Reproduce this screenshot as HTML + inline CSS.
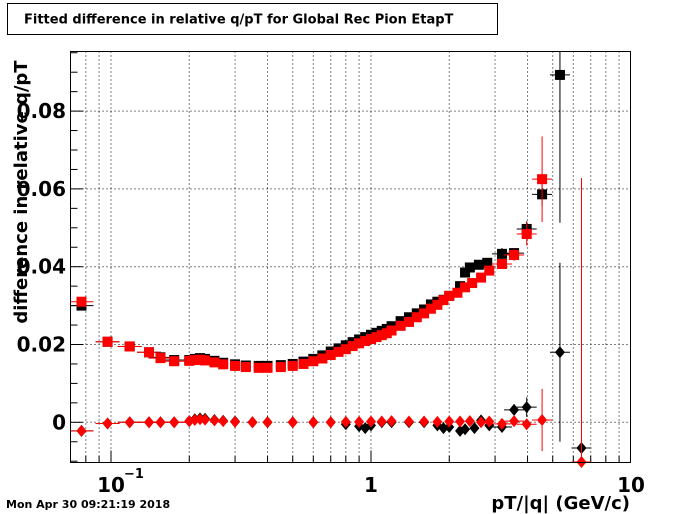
<!DOCTYPE html>
<html><head><meta charset="utf-8"><style>
html,body{margin:0;padding:0;background:#fff;}
svg{display:block;font-family:"DejaVu Sans","Liberation Sans",sans-serif;font-weight:bold;}
</style></head><body>
<svg id="c" width="700" height="514" xmlns="http://www.w3.org/2000/svg">
<rect x="0" y="0" width="700" height="514" fill="#fff"/>
<g>
<rect x="7.5" y="3.5" width="490" height="31" fill="#fff" stroke="#000" stroke-width="1"/>
<text x="24" y="23.5" font-size="13">Fitted difference in relative q/pT for Global Rec Pion EtapT</text>
</g>
<g id="grid"></g>
<g id="axes"></g>
<g id="marks"></g>
<rect x="70.5" y="51.5" width="560" height="411" fill="none" stroke="#000" stroke-width="1"/>
<text x="22" y="187" font-size="18" text-anchor="middle" transform="rotate(-90 27 187)">difference in relative q/pT</text>
<text x="630" y="509" font-size="18" text-anchor="end">pT/|q| (GeV/c)</text>
<text x="6" y="508" font-size="11">Mon Apr 30 09:21:19 2018</text>
</svg>
<script>
const xTicks=[0.1,1,10];
const xTickLabels=["10","1","10"];
const yTicks=[0,0.02,0.04,0.06,0.08];
const yTickLabels=["0","0.02","0.04","0.06","0.08"];
// black squares
const bsX=[0.077,0.097,0.118,0.14,0.155,0.175,0.2,0.21,0.22,0.23,0.25,0.27,0.3,0.33,0.37,0.4,0.45,0.5,0.55,0.6,0.65,0.7,0.75,0.8,0.85,0.9,0.95,1.0,1.05,1.1,1.15,1.2,1.3,1.4,1.5,1.6,1.7,1.8,1.9,2.0,2.2,2.3,2.4,2.6,2.8,3.19,3.55,3.97,4.55,5.33];
const bsY=[0.030,0.0207,0.0195,0.018,0.0167,0.016,0.016,0.0163,0.0165,0.0163,0.0158,0.0153,0.0149,0.0146,0.0145,0.0145,0.0147,0.015,0.0156,0.0163,0.0172,0.0182,0.019,0.0198,0.0206,0.0213,0.0219,0.0225,0.023,0.0235,0.024,0.0247,0.026,0.027,0.028,0.029,0.0303,0.031,0.0315,0.0325,0.035,0.0385,0.0398,0.0405,0.041,0.0433,0.0435,0.0497,0.0586,0.0893];
const bsE=[0,0,0,0,0,0,0,0,0,0,0,0,0,0,0,0,0,0,0,0,0,0,0,0,0,0,0,0,0,0,0,0,0,0,0,0,0,0,0,0,0,0,0,0,0,0.0015,0.001,0.002,0.003,0.038];
// red squares
const rsX=[0.077,0.097,0.118,0.14,0.155,0.175,0.2,0.21,0.22,0.23,0.25,0.27,0.3,0.33,0.37,0.4,0.45,0.5,0.55,0.6,0.65,0.7,0.75,0.8,0.85,0.9,0.95,1.0,1.05,1.1,1.15,1.2,1.3,1.4,1.5,1.6,1.7,1.8,1.9,2.0,2.15,2.3,2.45,2.65,2.85,3.19,3.55,3.97,4.55];
const rsY=[0.031,0.0207,0.0195,0.018,0.0165,0.0157,0.0158,0.016,0.0161,0.0159,0.0154,0.0149,0.0145,0.0142,0.014,0.014,0.0142,0.0145,0.015,0.0157,0.0164,0.0173,0.0181,0.0188,0.0196,0.0203,0.0209,0.0214,0.0219,0.0224,0.0229,0.0236,0.0248,0.0258,0.027,0.028,0.0292,0.0302,0.0314,0.0325,0.0333,0.0347,0.0358,0.0372,0.039,0.0407,0.043,0.0484,0.0625];
const rsE=[0,0,0,0,0,0,0,0,0,0,0,0,0,0,0,0,0,0,0,0,0,0,0,0,0,0,0,0,0,0,0,0,0,0,0,0,0,0,0,0,0,0,0,0,0,0.001,0.0015,0.003,0.011];
// black diamonds
const bdX=[0.077,0.097,0.118,0.14,0.155,0.175,0.2,0.21,0.22,0.23,0.25,0.27,0.3,0.35,0.4,0.5,0.6,0.7,0.8,0.9,0.95,1.0,1.1,1.2,1.4,1.6,1.8,1.9,2.0,2.2,2.3,2.5,2.65,2.85,3.19,3.55,3.97,5.33,6.45];
const bdY=[-0.0022,-0.0003,0,0,0,0,0.0003,0.0008,0.001,0.0009,0.0006,0.0004,0.0002,0,0,0,0,0,-0.0005,-0.001,-0.0015,-0.0008,0,0,0,0,-0.0008,-0.0015,-0.0012,-0.0022,-0.0018,-0.0015,0.0005,-0.0008,-0.0012,0.0032,0.0039,0.018,-0.0066];
const bdE=[0,0,0,0,0,0,0,0,0,0,0,0,0,0,0,0,0,0,0,0,0,0,0,0,0,0,0,0,0,0,0,0,0,0,0.001,0.0015,0.0025,0.023,0.002];
// red diamonds
const rdX=[0.077,0.097,0.118,0.14,0.155,0.175,0.2,0.21,0.22,0.23,0.25,0.27,0.3,0.35,0.4,0.5,0.6,0.7,0.8,0.9,1.0,1.1,1.2,1.4,1.6,1.8,2.0,2.2,2.4,2.65,2.85,3.19,3.55,3.97,4.55,6.45];
const rdY=[-0.0022,-0.0003,0,0,0,0,0.0003,0.0006,0.0008,0.0007,0.0005,0.0003,0.0001,0,0,0,0,0,0.0001,0.0001,0.0002,0.0002,0.0003,0.0002,0.0002,0.0001,0.0002,0.0002,0.0003,0,0.0002,-0.0004,0.0003,-0.0005,0.0006,-0.0102];
const rdE=[0,0,0,0,0,0,0,0,0,0,0,0,0,0,0,0,0,0,0,0,0,0,0,0,0,0,0,0,0,0,0,0.001,0.001,0.001,0.008,0.073];

const X0=70.5,X1=630.5,Y0=51.5,Y1=462.5;
const LX=371,DEC=260;
function xs(v){return LX+Math.log10(v)*DEC;}
const YZ=422.3,YU=3890;
function ys(v){return YZ-v*YU;}
const NS="http://www.w3.org/2000/svg";
function mk(tag,parent,attrs){const e=document.createElementNS(NS,tag);for(const k in attrs)e.setAttribute(k,attrs[k]);parent.appendChild(e);return e;}
const grid=document.getElementById('grid'),axes=document.getElementById('axes'),marks=document.getElementById('marks');
// x grid and ticks
for(let d=-2;d<=1;d++){for(let m=1;m<=9;m++){const v=m*Math.pow(10,d);const px=xs(v);if(px<X0+1||px>X1-1)continue;
 const g=mk('line',grid,{x1:px,x2:px,y1:Y0,y2:Y1,stroke:'#000','stroke-width':1,'stroke-dasharray':'1,3'});
 
 
 const t=mk('line',axes,{x1:px,x2:px,y1:Y1,y2:Y1-(m===1?12:7),stroke:'#000','stroke-width':1});
 
 }}
xTicks.forEach((v,i)=>{const px=xs(v);
 const t=mk('text',axes,{x:px,y:492,'font-size':20,'text-anchor':'middle'});t.textContent=xTickLabels[i];
 
 
 if(v===0.1){const s=mk('text',axes,{x:px+13,y:478,'font-size':13});s.textContent='\u22121';
 
 }
});
// y grid and ticks
for(let k=-2;k<=19;k++){const v=k*0.005;const py=ys(v);if(py<Y0||py>Y1)continue;
 const major=(k%4===0);
 const t=mk('line',axes,{x1:X0,x2:X0+(major?12:7),y1:py,y2:py,stroke:'#000','stroke-width':1});
 
 }
yTicks.forEach((v,i)=>{const py=ys(v);
 const g=mk('line',grid,{x1:X0,x2:X1,y1:py,y2:py,stroke:'#000','stroke-width':1,'stroke-dasharray':'1,3'});
 
 
 const t=mk('text',axes,{x:66,y:py+7,'font-size':20,'text-anchor':'end'});t.textContent=yTickLabels[i];
 
 });
function clampY(y){return Math.max(Y0,Math.min(Y1,y));}
function series(X,Y,E,color,shape,name){
 const g=mk('g',marks,{});
 
 
 X.forEach((xv,i)=>{const px=xs(xv),py=ys(Y[i]);
  const hw=xv<0.2?12:(xv>3?10:4);
  const h=mk('line',g,{x1:Math.max(X0,px-hw),x2:px+hw,y1:py,y2:py,stroke:color,'stroke-width':1});
  
  
  if(E[i]>0){const v=mk('line',g,{x1:px,x2:px,y1:clampY(ys(Y[i]+E[i])),y2:clampY(ys(Y[i]-E[i])),stroke:color,'stroke-width':1});
   
   }
  let m;
  if(shape==='sq'){m=mk('rect',g,{x:px-5,y:py-5,width:10,height:10,fill:color});}
  else{m=mk('polygon',g,{points:`${px},${py-6} ${px+5},${py} ${px},${py+6} ${px-5},${py}`,fill:color});}
  
  
 });
}
series(bsX,bsY,bsE,'#000','sq','black-squares-series');
series(bdX,bdY,bdE,'#000','di','black-diamonds-series');
series(rsX,rsY,rsE,'#f00','sq','red-squares-series');
series(rdX,rdY,rdE,'#f00','di','red-diamonds-series');
</script>
</body></html>
